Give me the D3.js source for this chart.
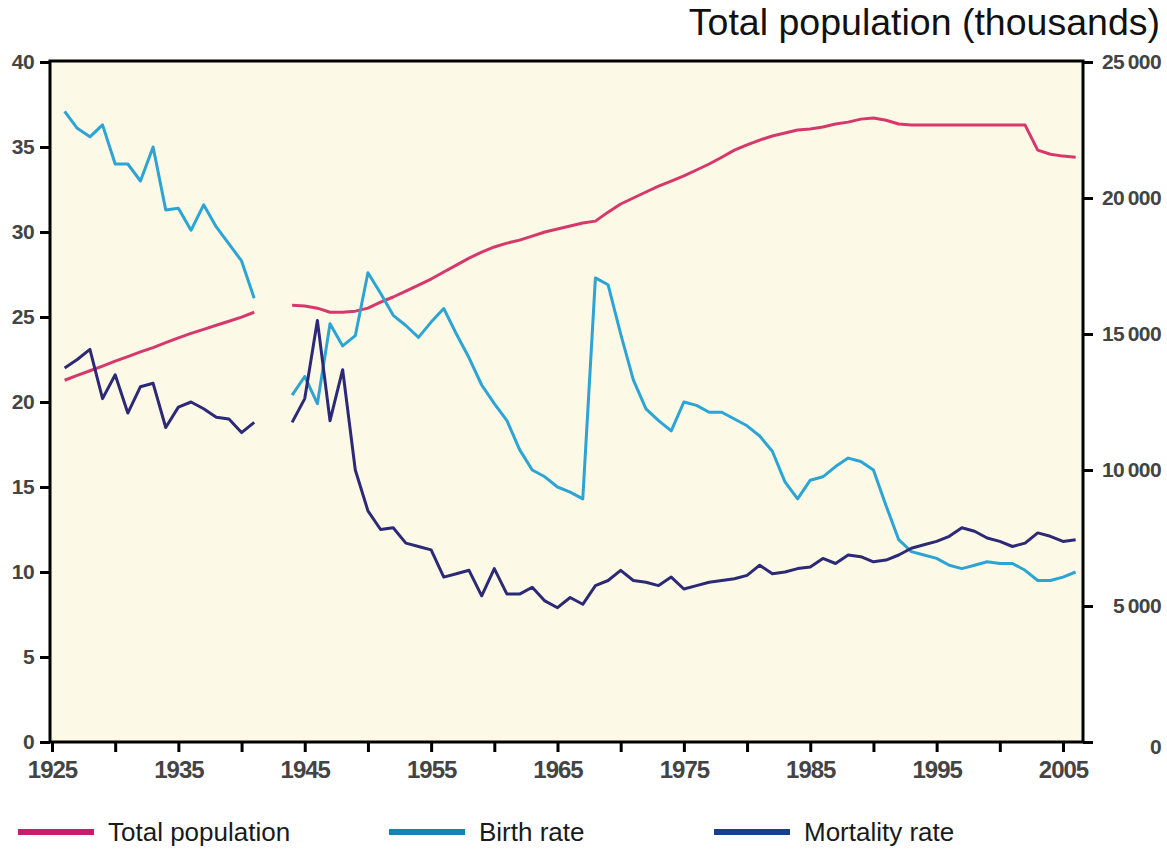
<!DOCTYPE html>
<html>
<head>
<meta charset="utf-8">
<script src="https://cdn.jsdelivr.net/npm/d3@7"></script>
<style>
  body { margin: 0; background: #fff; }
  svg text { font-family: "Liberation Sans", Arial, sans-serif; }
</style>
</head>
<body>
<svg width="1167" height="849"></svg>
<script>
// yearly values, null = no data (war years)
const years = d3.range(1926, 2007);

const population = [
  13300, 13480, 13650, 13820, 14000, 14170, 14340, 14500, 14680, 14860,
  15020, 15170, 15320, 15470, 15620, 15800, null, null, 16060, 16030,
  15950, 15800, 15800, 15840, 15950, 16170, 16360, 16580, 16800, 17020,
  17280, 17530, 17790, 18010, 18200, 18340, 18450, 18600, 18750, 18860,
  18970, 19080, 19150, 19480, 19780, 20000, 20220, 20440, 20620, 20810,
  21030, 21250, 21500, 21760, 21950, 22130, 22280, 22390, 22500, 22540,
  22610, 22720, 22790, 22900, 22940, 22860, 22720, 22680, 22680, 22680,
  22680, 22680, 22680, 22680, 22680, 22680, 22680, 21760, 21610, 21540,
  21500
];

const birthRate = [
  37.1, 36.1, 35.6, 36.3, 34.0, 34.0, 33.0, 35.0, 31.3, 31.4,
  30.1, 31.6, 30.3, 29.3, 28.3, 26.1, null, null, 20.4, 21.5,
  19.9, 24.6, 23.3, 23.9, 27.6, 26.4, 25.1, 24.5, 23.8, 24.7,
  25.5, 24.0, 22.6, 21.0, 19.9, 18.9, 17.2, 16.0, 15.6, 15.0,
  14.7, 14.3, 27.3, 26.9, 24.0, 21.3, 19.6, 18.9, 18.3, 20.0,
  19.8, 19.4, 19.4, 19.0, 18.6, 18.0, 17.1, 15.3, 14.3, 15.4,
  15.6, 16.2, 16.7, 16.5, 16.0, 13.9, 11.9, 11.2, 11.0, 10.8,
  10.4, 10.2, 10.4, 10.6, 10.5, 10.5, 10.1, 9.5, 9.5, 9.7,
  10.0
];

const mortalityRate = [
  22.0, 22.5, 23.1, 20.2, 21.6, 19.35, 20.9, 21.1, 18.5, 19.7,
  20.0, 19.6, 19.1, 19.0, 18.2, 18.8, null, null, 18.8, 20.2,
  24.8, 18.9, 21.9, 16.0, 13.6, 12.5, 12.6, 11.7, 11.5, 11.3,
  9.7, 9.9, 10.1, 8.6, 10.2, 8.7, 8.7, 9.1, 8.3, 7.9,
  8.5, 8.1, 9.2, 9.5, 10.1, 9.5, 9.4, 9.2, 9.7, 9.0,
  9.2, 9.4, 9.5, 9.6, 9.8, 10.4, 9.9, 10.0, 10.2, 10.3,
  10.8, 10.5, 11.0, 10.9, 10.6, 10.7, 11.0, 11.4, 11.6, 11.8,
  12.1, 12.6, 12.4, 12.0, 11.8, 11.5, 11.7, 12.3, 12.1, 11.8,
  11.9
];

const rateTicks = [0, 5, 10, 15, 20, 25, 30, 35, 40];
const popTicks = [0, 5000, 10000, 15000, 20000, 25000];
const yearTicks = d3.range(1925, 2006, 5);
const yearLabels = [1925, 1935, 1945, 1955, 1965, 1975, 1985, 1995, 2005];

const svg = d3.select("svg"),
  plotLeft = 50,
  plotRight = 1083,
  plotTop = 61,
  plotBottom = 742;

const x = d3.scaleLinear().domain([1925, 2005]).range([52, 1063]);
const yRate = d3.scaleLinear().domain([0, 40]).range([plotBottom, plotTop + 1]);
const yPop = d3.scaleLinear().domain([0, 25000]).range([plotBottom, plotTop + 1]);

// plot background
svg.append("rect")
  .attr("x", plotLeft).attr("y", plotTop)
  .attr("width", plotRight - plotLeft).attr("height", plotBottom - plotTop)
  .attr("fill", "#fdf9e7");

// lines
const series = [
  { name: "Total population", values: population, y: yPop, color: "#d6386c", legend: "#c81c6c" },
  { name: "Birth rate", values: birthRate, y: yRate, color: "#2ca4d4", legend: "#1484b4" },
  { name: "Mortality rate", values: mortalityRate, y: yRate, color: "#2c2a76", legend: "#173f8f" }
];

series.forEach(function (s) {
  const line = d3.line()
    .defined(function (d) { return d != null; })
    .x(function (d, i) { return x(years[i]); })
    .y(function (d) { return s.y(d); });

  svg.append("path")
    .datum(s.values)
    .attr("fill", "none")
    .attr("stroke", s.color)
    .attr("stroke-width", 3)
    .attr("stroke-linejoin", "round")
    .attr("d", line);
});

// frame
svg.append("rect")
  .attr("x", plotLeft).attr("y", plotTop)
  .attr("width", plotRight - plotLeft).attr("height", plotBottom - plotTop)
  .attr("fill", "none")
  .attr("stroke", "#000")
  .attr("stroke-width", 3);

// axes
const axisLeft = svg.append("g")
  .attr("transform", "translate(" + plotLeft + ",0)")
  .call(d3.axisLeft(yRate).tickValues(rateTicks).tickSize(10).tickPadding(6));

const axisRight = svg.append("g")
  .attr("transform", "translate(" + plotRight + ",0)")
  .call(d3.axisRight(yPop).tickValues(popTicks).tickSize(10).tickPadding(0)
    .tickFormat(function (d) { return d3.format(",")(d).replace(",", "\u2009"); }));

const axisBottom = svg.append("g")
  .attr("transform", "translate(0," + plotBottom + ")")
  .call(d3.axisBottom(x).tickValues(yearTicks).tickSize(10).tickPadding(9)
    .tickFormat(function (d) { return yearLabels.indexOf(d) >= 0 ? d : ""; }));

[axisLeft, axisRight, axisBottom].forEach(function (g) {
  g.select(".domain").remove();
  g.selectAll(".tick line").attr("stroke", "#000").attr("stroke-width", 3);
  g.selectAll(".tick text")
    .attr("fill", "#444")
    .style("font-size", "21px")
    .style("font-weight", "bold")
    .style("letter-spacing", "-0.6px")
    .style("font-family", "'Liberation Sans', Arial, sans-serif");
});

axisBottom.selectAll(".tick text")
  .style("font-size", "24px")
  .style("letter-spacing", "-1px");

// right labels are right-aligned at the edge
axisRight.selectAll(".tick text")
  .attr("text-anchor", "end")
  .attr("x", 1161 - plotRight);
axisRight.selectAll(".tick").filter(function (d) { return d === 0; })
  .select("text").attr("dy", "0.55em");

// title
svg.append("text")
  .attr("x", 1160)
  .attr("y", 35)
  .attr("text-anchor", "end")
  .attr("fill", "#111")
  .style("font-size", "37.5px")
  .text("Total population (thousands)");

// legend
const legendX = [18, 389, 714];
const legend = svg.append("g").selectAll("g")
  .data(series)
  .enter()
  .append("g")
  .attr("transform", function (d, i) { return "translate(" + legendX[i] + ",832)"; });

legend.append("line")
  .attr("x1", 0).attr("x2", 76)
  .attr("y1", 0).attr("y2", 0)
  .attr("stroke", function (d) { return d.legend; })
  .attr("stroke-width", 6);

legend.append("text")
  .attr("x", 90)
  .attr("y", 9)
  .attr("fill", "#1a1a1a")
  .style("font-size", "26px")
  .text(function (d) { return d.name; });
</script>
</body>
</html>
